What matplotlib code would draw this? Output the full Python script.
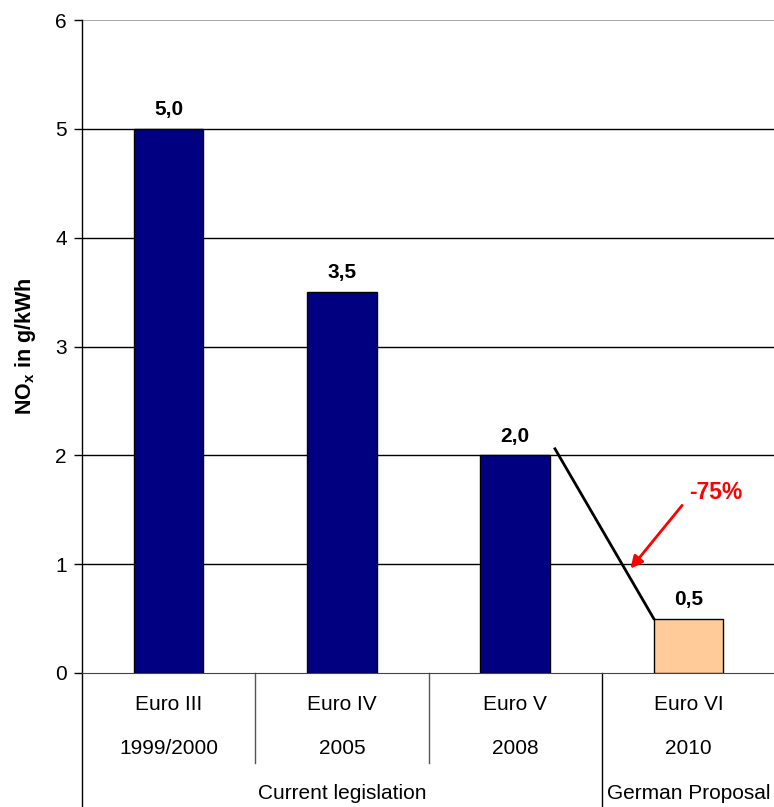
import matplotlib
matplotlib.use("Agg")
import matplotlib.pyplot as plt
import numpy as np

plt.rcParams['font.family'] = ['Liberation Sans', 'DejaVu Sans']
plt.rcParams['mathtext.fontset'] = 'custom'
plt.rcParams['mathtext.rm'] = 'Liberation Sans'
plt.rcParams['mathtext.bf'] = 'Liberation Sans:bold'

# data
stages = ['Euro III', 'Euro IV', 'Euro V', 'Euro VI']
years = ['1999/2000', '2005', '2008', '2010']
nox = [5.0, 3.5, 2.0, 0.5]
value_labels = ['5,0', '3,5', '2,0', '0,5']
bar_colors = ['#000080', '#000080', '#000080', '#FFCC99']
groups = ['Current legislation', 'German Proposal']
group_span = [(0, 2), (3, 3)]  # first/last category index of each group
reduction_label = '-75%'

fig = plt.figure(figsize=(7.74, 8.07), dpi=100)
ax = fig.add_axes([82 / 774, 1 - 673 / 807, 693 / 774, 653 / 807])

x = np.arange(len(stages))
w = 0.4
ax.bar(x, nox, width=w, color=bar_colors, edgecolor='black', linewidth=1, zorder=3)

for xi, v, lab in zip(x, nox, value_labels):
    ax.annotate(lab, (xi, v), xytext=(0, 7), textcoords='offset points',
                ha='center', va='bottom', fontsize=15, fontweight='bold')

ax.set_xlim(-0.5, 3.5)
ax.set_ylim(0, 6)
ax.set_yticks(range(0, 7))
ax.tick_params(axis='y', labelsize=15, length=6, width=1, direction='out', pad=5)
ax.set_xticks([])

# grid lines
for yv in range(1, 6):
    ax.axhline(yv, color='black', linewidth=1, zorder=1)
ax.axhline(6, color='#999999', linewidth=1.2, zorder=1)

for s in ['top', 'right']:
    ax.spines[s].set_visible(False)
ax.spines['bottom'].set_color('#444444')
ax.spines['left'].set_linewidth(1)

ax.set_ylabel(r'NO$_\mathbf{x}$ in g/kWh', fontsize=15.5, fontweight='bold', labelpad=12)

# category labels below the axis
trans = ax.get_xaxis_transform()
for xi, st, yr in zip(x, stages, years):
    ax.text(xi, -0.049, st, transform=trans, ha='center', va='center', fontsize=15)
    ax.text(xi, -0.115, yr, transform=trans, ha='center', va='center', fontsize=15)

# separators
for sep in [0.5, 1.5]:
    ax.plot([sep, sep], [0, -0.138], transform=trans, color='#555555', linewidth=1, clip_on=False)
ax.plot([2.5, 2.5], [0, -0.21], transform=trans, color='black', linewidth=1, clip_on=False)
ax.plot([-0.5, -0.5], [0, -0.21], transform=trans, color='black', linewidth=1, clip_on=False)

for g, (a, b) in zip(groups, group_span):
    ax.text((a + b) / 2 if a != b else a, -0.184, g, transform=trans,
            ha='center', va='center', fontsize=15)

# reduction line and arrow
ax.plot([x[2] + w / 2 + 0.03, x[3] - w / 2], [nox[2] + 0.06, nox[3]],
        color='black', linewidth=2, zorder=4)
ax.annotate('', xy=(2.656, 0.94), xytext=(2.974, 1.56),
            arrowprops=dict(arrowstyle='-|>', color='red', lw=2, mutation_scale=18))
ax.text(3.158, 1.66, reduction_label, color='red', fontsize=16.5, fontweight='bold',
        ha='center', va='center')

fig.savefig('out.png', dpi=100)
